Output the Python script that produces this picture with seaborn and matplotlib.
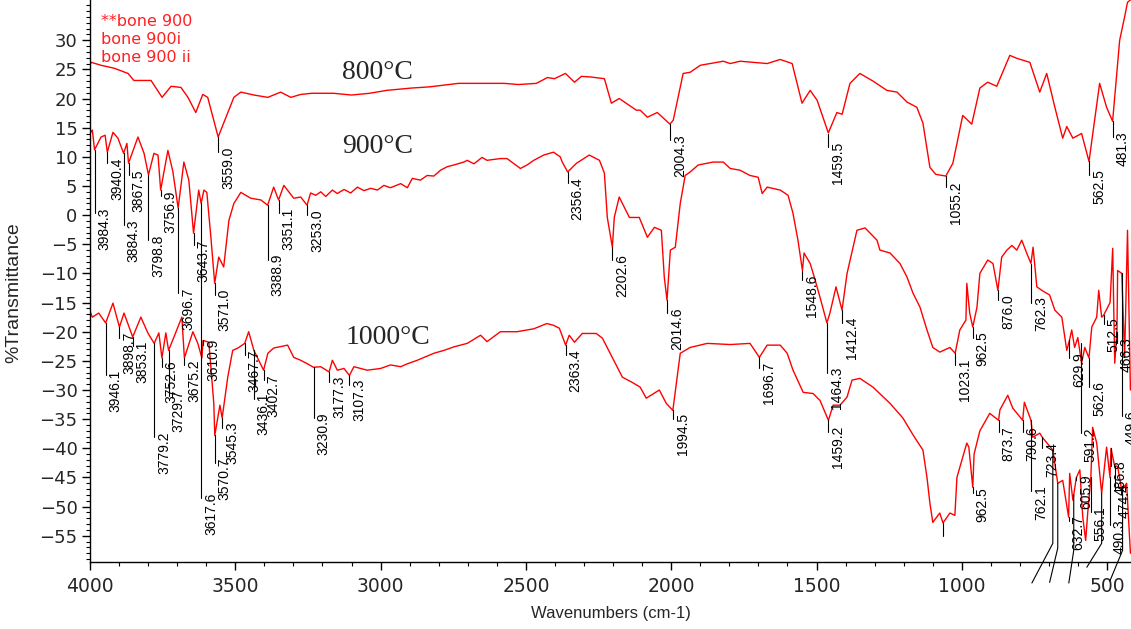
import matplotlib
matplotlib.use("Agg")
import matplotlib.pyplot as plt
import matplotlib.transforms as mtransforms
from matplotlib.ticker import MultipleLocator
from matplotlib import font_manager
import seaborn as sns

# ---------------- spectra: wavenumber (cm-1) and %T ----------------
wn_800 = [4000, 3995, 3962, 3917, 3869, 3849, 3790, 3752, 3721, 3687, 3663, 3636, 3612, 3595,
          3559.0, 3505, 3481, 3436, 3388, 3344, 3309, 3275, 3237, 3162, 3100, 3038, 2979, 2893,
          2832, 2732, 2646, 2574, 2526, 2464, 2426, 2402, 2364, 2333, 2309, 2278, 2230, 2206,
          2179, 2120, 2107, 2082, 2048, 2004.3, 1993, 1959, 1935, 1900, 1821, 1797, 1763, 1670,
          1625, 1584, 1567, 1550, 1522, 1498, 1459.5, 1430, 1412, 1385, 1351, 1306, 1258, 1223,
          1189, 1155, 1134, 1110, 1090, 1055.2, 1031, 997, 966, 938, 911, 880, 835, 811, 766,
          732, 708, 680, 653, 639, 618, 588, 562.5, 526, 502, 481.3, 457, 440, 430, 418]
t_800 = [25.9, 26.2, 25.7, 25.2, 24.3, 23.1, 23.1, 20.2, 22.1, 21.9, 20.2, 17.6, 20.7, 20.2,
         13.4, 20.2, 21.1, 20.6, 20.2, 21.1, 20.2, 20.7, 20.9, 20.9, 20.6, 20.9, 21.4, 21.8,
         22.0, 22.6, 22.6, 22.6, 22.4, 22.6, 23.6, 23.4, 24.3, 22.8, 23.8, 23.7, 23.4, 19.2,
         20.0, 18.0, 18.0, 16.8, 17.6, 15.6, 16.3, 24.3, 24.5, 25.7, 26.4, 26.0, 26.4, 26.0,
         26.7, 26.0, 22.6, 19.2, 21.4, 19.7, 14.1, 17.6, 17.3, 22.6, 24.3, 23.0, 21.4, 21.1,
         19.4, 18.5, 15.8, 8.2, 7.0, 6.7, 8.9, 17.1, 15.6, 21.8, 22.8, 22.1, 27.4, 26.9, 26.2,
         21.1, 24.3, 18.5, 13.2, 15.2, 13.2, 14.0, 9.2, 22.6, 18.5, 16.1, 30.0, 34.0, 36.5, 37.0]

wn_900 = [4000, 3992, 3984.3, 3962, 3948, 3940.4, 3921, 3904, 3884.3, 3873, 3867.5, 3835, 3814,
          3798.8, 3780, 3766, 3756.9, 3732, 3715, 3696.7, 3677, 3660, 3643.7, 3626, 3617.6, 3608,
          3598, 3584, 3571.0, 3557, 3540, 3522, 3505, 3481, 3447, 3412, 3388.9, 3368, 3351.1,
          3333, 3299, 3275, 3253.0, 3241, 3223, 3206, 3189, 3166, 3149, 3126, 3103, 3080, 3057,
          3034, 3011, 2989, 2966, 2931, 2908, 2891, 2863, 2840, 2817, 2794, 2771, 2748, 2714,
          2702, 2679, 2651, 2634, 2588, 2565, 2519, 2496, 2473, 2439, 2405, 2382, 2375, 2356.4,
          2326, 2282,
          2247, 2230, 2220, 2202.6, 2196, 2179, 2144, 2110, 2082, 2058, 2034, 2024, 2014.6, 2003,
          1986, 1969, 1952, 1935, 1907, 1856, 1821, 1797, 1763, 1729, 1701, 1687, 1670, 1625,
          1598, 1581, 1564, 1548.6, 1543, 1522, 1508, 1488, 1464.3, 1454, 1433, 1412.4, 1395,
          1361, 1333, 1292, 1282, 1247, 1213, 1189, 1168, 1144, 1120, 1100, 1076, 1041, 1023.1,
          1007, 986, 983, 973, 962.5, 948, 938, 911, 893, 876.0, 863, 845, 828, 811, 794, 777,
          762.3, 755, 742, 725, 698, 680, 656, 639, 629.9, 622, 612, 601, 588, 577, 562.6, 553,
          536, 529, 519, 512.5, 490, 481, 474, 466.3, 464, 449.6, 440, 430, 420]
t_900 = [14.0, 14.6, 11.2, 13.4, 13.7, 10.8, 14.2, 13.2, 10.6, 12.3, 8.9, 13.4, 10.6,
         6.9, 10.6, 10.3, 4.3, 11.1, 7.5, 1.2, 9.1, 6.0, -3.1, 4.3, 2.0, 4.3,
         3.9, -3.8, -11.7, -7.2, -8.9, -0.9, 2.0, 3.9, 2.9, 2.6, 1.7, 4.8, 2.6,
         5.1, 2.9, 3.1, 1.7, 3.8, 3.4, 4.0, 3.2, 4.3, 3.7, 4.4, 3.8, 4.8, 4.2,
         4.6, 4.3, 5.1, 4.7, 5.4, 4.7, 6.3, 6.0, 6.8, 6.7, 7.7, 8.3, 8.6, 9.1,
         9.4, 8.8, 9.9, 9.4, 9.7, 9.7, 8.0, 8.6, 9.4, 10.3, 10.8, 10.0, 9.1, 7.4,
         8.9, 10.3,
         9.4, 7.2, -0.4, -5.5, -0.4, 3.1, -0.4, -0.4, -3.8, -2.1, -2.6, -10.6, -14.6, -6.0,
         -5.5, 2.0, 6.8, 7.4, 8.6, 9.1, 9.1, 8.0, 7.7, 6.8, 6.5, 3.7, 4.8, 4.3,
         3.4, 0.3, -4.3, -9.5, -6.5, -8.3, -10.6, -14.1, -18.5, -16.8, -12.3, -16.3, -10.0,
         -2.6, -2.2, -4.3, -6.0, -6.5, -8.3, -10.6, -13.4, -15.8, -19.7, -22.7, -23.5, -22.7, -23.7,
         -19.7, -18.0, -11.7, -16.8, -19.2, -15.8, -10.0, -7.7, -8.3, -12.9, -7.2, -6.0, -5.2, -6.0, -4.3, -6.5,
         -8.3, -5.5, -12.3, -12.9, -13.7, -16.3, -17.5, -23.2, -21.5, -19.7, -22.7, -21.0, -25.4, -22.7, -24.5, -19.2,
         -17.5, -12.9, -17.5, -17.2, -15.0, -5.7, -25.4, -20.0, -9.5, -10.0, -24.4, -2.6, -30.0]

wn_1000 = [4000, 3992, 3970, 3946.1, 3921, 3898.7, 3883, 3853.1, 3825, 3801, 3779.2, 3763, 3752.6,
           3739, 3729.7, 3711, 3684, 3675.2, 3646, 3629, 3615, 3610.9, 3591, 3574, 3570.7, 3553,
           3545.3, 3526, 3509, 3491, 3467.7, 3454, 3436.1, 3402.7, 3388, 3368, 3320, 3299, 3275,
           3252, 3230.9, 3206, 3177.3, 3166, 3149, 3126, 3107.3, 3092, 3046, 3000, 2966, 2931,
           2908, 2874, 2817, 2782, 2748, 2702, 2656, 2634, 2588, 2531, 2473, 2428, 2405, 2385,
           2363.4, 2351, 2333, 2306, 2258, 2237, 2203,
           2168, 2134, 2107, 2086, 2041, 2017, 1994.5, 1969, 1935, 1876, 1797, 1729, 1696.7, 1670,
           1625, 1601, 1581, 1546, 1512, 1488, 1459.2, 1443, 1419, 1395, 1378, 1351, 1306, 1247,
           1203, 1168, 1134, 1120, 1110, 1100, 1076, 1065, 1041, 1024, 1017, 983, 976, 962.5, 958,
           938, 904, 873.7, 869, 842, 825, 790.6, 785, 762.1, 756, 732, 723.4, 687, 670, 653,
           632.7, 629, 618, 605.9, 594, 584, 574, 567, 556.1, 550, 536, 519, 502, 490.3, 486.8,
           474.4, 464, 450, 433, 420]
t_1000 = [-16.5, -17.5, -16.8, -18.5, -15.1, -19.2, -16.8, -20.9, -17.5, -20.2, -22.0, -20.2, -24.5,
          -20.2, -23.2, -20.9, -17.5, -24.5, -20.0, -22.0, -24.5, -21.5, -21.8, -32.3, -37.8, -32.6,
          -34.8, -27.8, -23.2, -22.8, -22.0, -20.0, -23.2, -26.6, -23.7, -22.8, -22.3, -24.4, -24.9,
          -25.5, -26.1, -26.0, -26.9, -24.9, -26.6, -26.3, -27.5, -26.0, -26.6, -26.3, -25.7, -26.0,
          -25.5, -24.9, -23.7, -23.2, -22.6, -22.0, -20.6, -21.7, -20.0, -20.0, -19.5, -18.6, -18.9, -19.4,
          -22.3, -20.6, -21.8, -20.3, -20.3, -21.1, -24.4,
          -27.8, -28.7, -29.5, -31.4, -30.0, -32.3, -33.5, -23.7, -22.7, -22.0, -22.2, -22.0, -24.4, -22.3,
          -22.3, -23.7, -26.6, -30.4, -30.6, -31.8, -35.2, -32.6, -32.6, -31.2, -28.3, -28.0, -29.5, -32.3,
          -34.8, -37.7, -40.3, -45.0, -49.4, -52.7, -51.1, -52.8, -51.1, -51.5, -45.0, -39.1, -39.8, -46.7, -41.0,
          -37.0, -34.0, -35.2, -33.4, -30.9, -33.1, -35.2, -32.1, -35.2, -38.1, -37.4, -38.1, -40.3, -46.0, -45.5,
          -51.8, -44.3, -48.9, -45.0, -43.7, -51.8, -55.8, -51.1, -45.0, -36.4, -39.1, -47.7, -39.8, -45.0, -40.0,
          -43.0, -43.1, -47.2, -46.0, -58.0]

# ---------------- peak annotations: label, %T at peak, %T at end of leader ----------------
peaks_800 = [("3559.0", 13.4, 10.8), ("2004.3", 15.6, 12.8), ("1459.5", 14.0, 11.6),
             ("1055.2", 6.7, 4.8), ("562.5", 9.2, 6.8), ("481.3", 16.1, 13.4)]
peaks_900 = [("3984.3", 11.2, 0.3), ("3940.4", 10.8, 8.9), ("3884.3", 10.6, -1.7),
             ("3867.5", 8.9, 6.8), ("3798.8", 6.9, -4.3), ("3756.9", 4.3, 3.2),
             ("3696.7", 1.2, -13.4), ("3643.7", -3.1, -5.2), ("3617.6", 2.0, -48.6),
             ("3571.0", -11.7, -13.7), ("3388.9", 1.7, -7.7), ("3351.1", 2.6, 0.3),
             ("3253.0", 1.7, 0.0), ("2356.4", 7.4, 5.5), ("2202.6", -5.5, -7.7),
             ("2014.6", -14.6, -16.8), ("1548.6", -9.5, -11.2), ("1464.3", -18.5, -27.0),
             ("1412.4", -16.3, -18.5), ("1023.1", -23.7, -25.7), ("962.5", -19.2, -21.0),
             ("876.0", -12.9, -14.6), ("762.3", -8.3, -15.0), ("629.9", -21.5, -24.5),
             ("591.2", -22.0, -37.4), ("562.6", -24.5, -29.5), ("512.5", -17.2, -18.6),
             ("466.3", -20.0, -22.0), ("449.6", -10.0, -34.5)]
peaks_1000 = [("3946.1", -18.5, -27.5), ("3898.7", -19.2, -21.0), ("3853.1", -20.9, -22.5),
              ("3779.2", -22.0, -38.1), ("3752.6", -24.5, -26.0), ("3729.7", -23.2, -31.0),
              ("3675.2", -24.5, -25.7), ("3610.9", -21.5, -22.3), ("3570.7", -37.8, -42.6),
              ("3545.3", -34.8, -36.5), ("3467.7", -22.0, -24.0), ("3436.1", -23.2, -31.5),
              ("3402.7", -26.6, -28.3), ("3230.9", -26.1, -34.8), ("3177.3", -26.9, -28.6),
              ("3107.3", -27.5, -29.1), ("2363.4", -22.3, -24.0), ("1994.5", -33.5, -35.0),
              ("1696.7", -24.4, -26.2), ("1459.2", -35.2, -37.2), ("962.5", -46.7, -47.7),
              ("873.7", -35.2, -37.2), ("790.6", -35.2, -37.2), ("762.1", -35.2, -47.3),
              ("723.4", -38.1, -40.0), ("632.7", -51.8, -52.5), ("605.9", -45.0, -45.5),
              ("556.1", -45.0, -51.0), ("490.3", -45.0, -53.2), ("486.8", -40.0, -43.0),
              ("474.4", -43.0, -47.0)]
unlabeled_ticks = [(1065, -52.8, -55.0)]
# leaders running below the frame: (wavenumber, %T top, %T bend, wavenumber end, %T end)
off_leaders = [(687, -40.3, -56.3, 759, -63.1), (670, -46.0, -57.1, 698, -63.0),
               (615, -48.0, -57.5, 632, -63.1), (519, -47.7, -56.3, 570, -60.4),
               (447, -46.5, -57.5, 491, -62.8)]

temperatures = ["800°C", "900°C", "1000°C"]
legend_lines = ["**bone 900", "bone 900i", "bone 900 ii"]

x_ticks = [4000, 3500, 3000, 2500, 2000, 1500, 1000, 500]
y_ticks = list(range(30, -60, -5))

# ---------------- drawing ----------------
sns.set_style("ticks")
narrow = "Liberation Sans Narrow" if any(f.name == "Liberation Sans Narrow" for f in font_manager.fontManager.ttflist) else "Liberation Sans"
plt.rcParams["font.family"] = ["DejaVu Sans"]

W, H = 1131, 629
fig = plt.figure(figsize=(W / 100, H / 100), dpi=100)
ax = fig.add_axes([90 / W, (H - 562) / H, (W - 90) / W, 562 / H])

for wn, tr in ((wn_800, t_800), (wn_900, t_900), (wn_1000, t_1000)):
    sns.lineplot(x=wn, y=tr, ax=ax, color="#ff0000", linewidth=1.0, estimator=None,
                 sort=True, legend=False)

label_tf = mtransforms.offset_copy(ax.transData, fig=fig, x=3, y=6, units="dots")
for group in (peaks_800, peaks_900, peaks_1000):
    for lab, tp, te in group:
        w = float(lab)
        ax.plot([w, w], [tp, te], color="black", linewidth=0.8)
        ax.text(w, te, lab, transform=label_tf, rotation=90, ha="left", va="top",
                fontsize=10, family=[narrow, "DejaVu Sans"], color="black")
for w, tp, te in unlabeled_ticks:
    ax.plot([w, w], [tp, te], color="black", linewidth=0.8)
for w0, tp, tb, w1, te in off_leaders:
    ax.plot([w0, w0, w1], [tp, tb, te], color="black", linewidth=0.8, clip_on=False)

ax.text(3010, 23.3, temperatures[0], ha="center", va="baseline", fontsize=20,
        family="Liberation Serif")
ax.text(3010, 10.6, temperatures[1], ha="center", va="baseline", fontsize=20,
        family="Liberation Serif")
ax.text(2973, -22.1, temperatures[2], ha="center", va="baseline", fontsize=20,
        family="Liberation Serif")

for i, line in enumerate(legend_lines):
    fig.text(101 / W, 1 - (21 + 18 * i) / H, line, color="#ff2020", fontsize=11.5,
             ha="left", va="center")

ax.set_xlim(4000, 418)
ax.set_ylim(-59.5, 36.9)
ax.set_xticks(x_ticks)
ax.set_yticks(y_ticks)
ax.xaxis.set_minor_locator(MultipleLocator(100))
ax.yaxis.set_minor_locator(MultipleLocator(1))
ax.tick_params(axis="both", which="major", direction="out", length=6, width=1, color="black")
ax.tick_params(axis="both", which="minor", direction="out", length=3, width=0.8, color="black")
ax.tick_params(axis="x", labelsize=13.5, pad=5)
ax.tick_params(axis="y", labelsize=13, pad=3)
for s in ("top", "right"):
    ax.spines[s].set_visible(False)
for s in ("left", "bottom"):
    ax.spines[s].set_color("black")
    ax.spines[s].set_linewidth(1.0)

ax.set_xlabel("Wavenumbers (cm-1)", fontsize=12, family="Liberation Sans", labelpad=7)
ax.set_ylabel("%Transmittance", fontsize=14, family="Liberation Sans")
ax.yaxis.set_label_coords(-0.065, 0.48)

fig.savefig("out.png", dpi=100)
